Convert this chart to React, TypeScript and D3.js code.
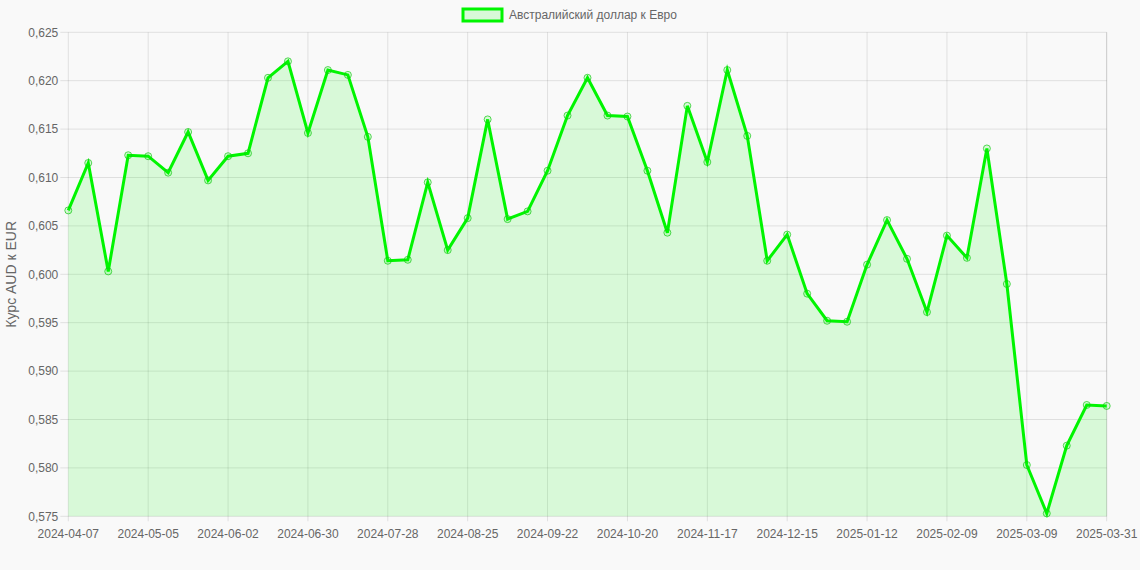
import React from "react";
import * as d3 from "d3";

const settings = {
  width: 1140,
  height: 570,
  margin: { top: 32.3, right: 33.3, bottom: 53.7, left: 68.3 },
};

const dates: string[] = [
  "2024-04-07", "2024-04-14", "2024-04-21", "2024-04-28",
  "2024-05-05", "2024-05-12", "2024-05-19", "2024-05-26",
  "2024-06-02", "2024-06-09", "2024-06-16", "2024-06-23", "2024-06-30",
  "2024-07-07", "2024-07-14", "2024-07-21", "2024-07-28",
  "2024-08-04", "2024-08-11", "2024-08-18", "2024-08-25",
  "2024-09-01", "2024-09-08", "2024-09-15", "2024-09-22", "2024-09-29",
  "2024-10-06", "2024-10-13", "2024-10-20", "2024-10-27",
  "2024-11-03", "2024-11-10", "2024-11-17", "2024-11-24",
  "2024-12-01", "2024-12-08", "2024-12-15", "2024-12-22", "2024-12-29",
  "2025-01-05", "2025-01-12", "2025-01-19", "2025-01-26",
  "2025-02-02", "2025-02-09", "2025-02-16", "2025-02-23",
  "2025-03-02", "2025-03-09", "2025-03-16", "2025-03-23", "2025-03-30",
  "2025-03-31",
];

const rates: number[] = [
  0.6066, 0.6115, 0.6003, 0.6123, 0.6122, 0.6105, 0.6147, 0.6097,
  0.6122, 0.6125, 0.6203, 0.622, 0.6146, 0.6211, 0.6206, 0.6142,
  0.6014, 0.6015, 0.6095, 0.6025, 0.6058, 0.616, 0.6057, 0.6065,
  0.6107, 0.6164, 0.6203, 0.6164, 0.6163, 0.6107, 0.6043, 0.6174,
  0.6116, 0.6211, 0.6143, 0.6014, 0.6041, 0.598, 0.5952, 0.5951,
  0.601, 0.6056, 0.6016, 0.5961, 0.604, 0.6017, 0.613, 0.599,
  0.5803, 0.5753, 0.5823, 0.5865, 0.5864,
];

const yTicks: number[] = [
  0.575, 0.58, 0.585, 0.59, 0.595, 0.6, 0.605, 0.61, 0.615, 0.62, 0.625,
];

const seriesName = "Австралийский доллар к Евро";
const yTitle = "Курс AUD к EUR";

const lineColor = "rgb(0, 245, 0)";
const fillColor = "rgba(0, 255, 0, 0.13)";
const gridColor = "rgba(0, 0, 0, 0.1)";
const textColor = "#666";
const font = "'Liberation Sans', Arial, sans-serif";

export default function App() {
  const { width, height, margin } = settings;
  const x = d3
    .scalePoint<string>()
    .domain(dates)
    .range([margin.left, width - margin.right]);
  const y = d3
    .scaleLinear()
    .domain([0.575, 0.625])
    .range([height - margin.bottom, margin.top]);

  const fmt = (v: number) => d3.format(".3f")(v).replace(".", ",");

  const line = d3
    .line<number>()
    .x((_, i) => x(dates[i]) as number)
    .y((d) => y(d));
  const area = d3
    .area<number>()
    .x((_, i) => x(dates[i]) as number)
    .y0(y(0.575))
    .y1((d) => y(d));

  const xTicks = dates.filter((_, i) => i % 4 === 0);
  const x0 = margin.left;
  const x1 = width - margin.right;
  const yBottom = height - margin.bottom;

  return (
    <div style={{ position: "absolute", left: 0, top: 0 }}>
      <svg width={width} height={height} style={{ display: "block" }}>
        <rect width={width} height={height} fill="#f9f9f9" />

        {/* grid */}
        <g stroke={gridColor} strokeWidth={1}>
          {yTicks.map((t) => (
            <line key={t} x1={x0 - 8} x2={x1} y1={y(t)} y2={y(t)} />
          ))}
          {xTicks.map((d) => (
            <line
              key={d}
              x1={x(d)}
              x2={x(d)}
              y1={margin.top}
              y2={yBottom + 5}
            />
          ))}
          <line x1={x1} x2={x1} y1={margin.top} y2={yBottom} />
        </g>

        {/* y labels */}
        <g fontFamily={font} fontSize={12} fill={textColor} textAnchor="end">
          {yTicks.map((t) => (
            <text key={t} x={x0 - 10} y={y(t)} dy="0.35em">
              {fmt(t)}
            </text>
          ))}
        </g>

        {/* x labels */}
        <g fontFamily={font} fontSize={12} fill={textColor} textAnchor="middle">
          {xTicks.map((d) => (
            <text key={d} x={x(d)} y={yBottom + 22}>
              {d}
            </text>
          ))}
        </g>

        <text
          transform={`translate(16,${(margin.top + yBottom) / 2}) rotate(-90)`}
          textAnchor="middle"
          fontFamily={font}
          fontSize={14}
          fill={textColor}
        >
          {yTitle}
        </text>

        {/* series */}
        <path d={area(rates) || ""} fill={fillColor} />
        <path
          d={line(rates) || ""}
          fill="none"
          stroke={lineColor}
          strokeWidth={3}
          strokeLinejoin="miter"
        />
        <g>
          {rates.map((v, i) => (
            <circle
              key={dates[i]}
              cx={x(dates[i])}
              cy={y(v)}
              r={3.5}
              fill={fillColor}
              stroke="rgba(20, 200, 20, 0.7)"
              strokeWidth={1}
            />
          ))}
        </g>

        {/* legend */}
        <rect
          x={463}
          y={9}
          width={39}
          height={12}
          fill={fillColor}
          stroke={lineColor}
          strokeWidth={3}
        />
        <text
          x={509}
          y={15}
          dy="0.35em"
          fontFamily={font}
          fontSize={12}
          fill={textColor}
        >
          {seriesName}
        </text>
      </svg>
    </div>
  );
}
